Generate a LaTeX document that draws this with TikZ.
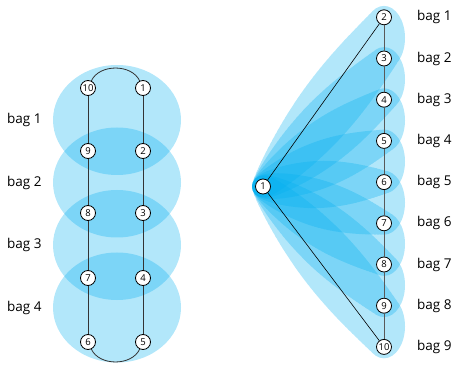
\documentclass[tikz,border=0pt]{standalone}
\usepackage{fontspec}
\setmainfont{Open Sans}
\usetikzlibrary{positioning}
\definecolor{bagcyan}{RGB}{0,174,239}
\tikzset{vert/.style={circle,draw,line width=0.8pt,fill=white,inner sep=0pt,minimum size=15pt,font=\fontsize{9.5}{10}\selectfont},
	bag/.style={fill=bagcyan,fill opacity=0.3},
	baglabel/.style={anchor=west,inner sep=0pt,font=\fontsize{13.5}{14}\selectfont},
	edge/.style={line width=0.8pt,black!80}}

\begin{document}
\begin{tikzpicture}[x=1pt,y=1pt]
			\useasboundingbox (0,0) rectangle (457,364);
			% left: the cycle and its four bags
			\foreach \i in {1,...,4}
				\fill[bag] (117,{244-62.5*(\i-1)}) ellipse [x radius=64,y radius=55];
			\foreach \a/\b/\y in {10/1/276, 9/2/213, 8/3/151, 7/4/86, 6/5/22}{
				\node[vert] (l\a) at (88,\y) {\a};
				\node[vert] (l\b) at (143,\y) {\b};
			}
			\draw[edge] (l10) -- (l9) -- (l8) -- (l7) -- (l6);
			\draw[edge] (l1) -- (l2) -- (l3) -- (l4) -- (l5);
			\draw[edge] (l10) to[out=65,in=115] (l1);
			\draw[edge] (l6) to[out=-65,in=-115] (l5);
			\foreach \i in {1,...,4}
				\node[baglabel] (lb\i) at (7,{244-62.5*(\i-1)}) {bag \i};
			% right: the fan and its bags
			\foreach \k in {1,...,8}{
				\pgfmathsetmacro\my{326.1-41.2*(\k-1)}
				\fill[bag] \foreach \t in {0,...,40}{
					({263+\t/40*121},{177.5+\t/40*(\my-177.5)}) ellipse [x radius={11+10*(\t/40)^0.6+9*sin(4.5*\t)},y radius={11+21*(\t/40)^0.6+9*sin(4.5*\t)}]
				};
			}
			\node[vert] (r1) at (263,177.5) {1};
			\foreach \k in {2,...,10}
				\node[vert] (r\k) at (384,{346.7-41.2*(\k-2)}) {\k};
			\draw[edge,black!65] (r2) -- (r3) -- (r4) -- (r5) -- (r6) -- (r7) -- (r8) -- (r9) -- (r10);
			\draw[line width=0.6pt] (r1) -- (r2);
			\draw[line width=0.6pt] (r1) -- (r10);
			\foreach \j in {1,...,9}
				\node[baglabel] (rb\j) at (417,{346.7-41.2*(\j-1)}) {bag \j};
		\end{tikzpicture}
\end{document}
